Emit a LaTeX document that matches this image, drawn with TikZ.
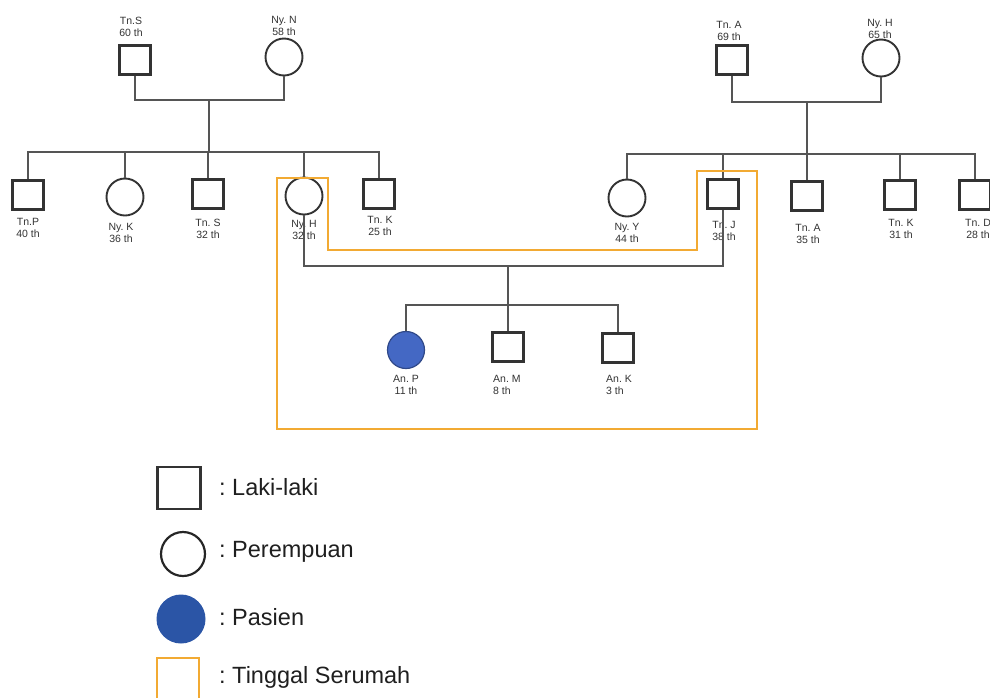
\documentclass[tikz,border=0pt]{standalone}
\usepackage{fontspec}
\setmainfont{Liberation Sans}
\frenchspacing
\definecolor{linegray}{HTML}{555555}
\definecolor{boxgray}{HTML}{333333}
\definecolor{house}{HTML}{F2AA33}
\definecolor{patient}{HTML}{4468C4}
\definecolor{patientkey}{HTML}{2B55A6}

\begin{document}
\begin{tikzpicture}[x=1pt,y=-1pt,
  male/.style={draw=boxgray, line width=2.1pt, minimum width=31pt, minimum height=29pt, inner sep=0pt},
  female/.style={circle, draw=boxgray, line width=1.9pt, minimum size=37pt, inner sep=0pt},
  tag/.style={align=center, font=\fontsize{10.5}{12.5}\selectfont, text=boxgray, inner sep=0pt},
  link/.style={draw=linegray, line width=1.6pt},
  home/.style={draw=house, line width=2.8pt},
  keytext/.style={anchor=west, font=\fontsize{23.5}{27}\selectfont, text=black!88, inner sep=0pt}]
\useasboundingbox (0,0) rectangle (990,697);

% ---------- labels ----------
\node[tag] at (131,27) {Tn.S\\60 th};
\node[tag] at (284,26) {Ny. N\\58 th};
\node[tag] at (729,31) {Tn. A\\69 th};
\node[tag] at (880,29) {Ny. H\\65 th};
\node[tag] at (28,228) {Tn.P\\40 th};
\node[tag] at (121,233) {Ny. K\\36 th};
\node[tag] at (208,229) {Tn. S\\32 th};
\node[tag] at (304,230) {Ny. H\\32 th};
\node[tag] at (380,226) {Tn. K\\25 th};
\node[tag] at (627,233) {Ny. Y\\44 th};
\node[tag] at (724,231) {Tn. J\\38 th};
\node[tag] at (808,234) {Tn. A\\35 th};
\node[tag] at (901,229) {Tn. K\\31 th};
\node[tag] at (978,229) {Tn. D\\28 th};
\node[tag] at (406,385) {An. P\\11 th};
\node[tag, align=left, anchor=west] at (493,385) {An. M\\8 th};
\node[tag, align=left, anchor=west] at (606,385) {An. K\\3 th};

% ---------- grandparents ----------
\node[male]   (tnS)  at (135,60) {};
\node[female] (nyN)  at (284,57) {};
\node[male]   (tnA)  at (732,60) {};
\node[female] (nyHg) at (881,58) {};

% ---------- second generation ----------
\node[male]   (tnP)  at (28,195)  {};
\node[female] (nyK)  at (125,197) {};
\node[male]   (tnS2) at (208,194) {};
\node[female] (nyH)  at (304,196) {};
\node[male]   (tnK)  at (379,194) {};

\node[female] (nyY)  at (627,198) {};
\node[male]   (tnJ)  at (723,194) {};
\node[male]   (tnA2) at (807,196) {};
\node[male]   (tnK2) at (900,195) {};
\node[male]   (tnD)  at (975,195) {};

% ---------- third generation ----------
\node[female, fill=patient, draw=patient!70!black, line width=1.2pt] (anP) at (406,350) {};
\node[male] (anM) at (508,347) {};
\node[male] (anK) at (618,348) {};

% ---------- junction points ----------
\coordinate (jL)  at (209,100);
\coordinate (sL)  at (209,152);
\coordinate (jR)  at (807,102);
\coordinate (sR)  at (807,154);
\coordinate (jM)  at (508,266);
\coordinate (sM)  at (508,305);

% ---------- left family ----------
\draw[link] (tnS.south) |- (jL) -| (nyN.south);
\draw[link] (jL) -- (sL);
\draw[link] (tnP.north) |- (sL) -| (tnK.north);
\draw[link] (nyK.north) -- (nyK.north |- sL);
\draw[link] (tnS2.north) -- (tnS2.north |- sL);
\draw[link] (nyH.north) -- (nyH.north |- sL);

% ---------- right family ----------
\draw[link] (tnA.south) |- (jR) -| (nyHg.south);
\draw[link] (jR) -- (sR);
\draw[link] (nyY.north) |- (sR) -| (tnD.north);
\draw[link] (tnJ.north) -- (tnJ.north |- sR);
\draw[link] (tnA2.north) -- (tnA2.north |- sR);
\draw[link] (tnK2.north) -- (tnK2.north |- sR);

% ---------- nuclear family ----------
\draw[link] (nyH.south) |- (jM) -| (tnJ.south);
\draw[link] (jM) -- (sM);
\draw[link] (anP.north) |- (sM) -| (anK.north);
\draw[link] (anM.north) -- (sM);

% ---------- household boundary ----------
\draw[home, line join=miter] (277,178) -- (328,178) -- (328,250) -- (697,250) -- (697,171)
  -- (757,171) -- (757,429) -- (277,429) -- cycle;

% ---------- key ----------
\node[draw=boxgray, line width=2.4pt, minimum width=43pt, minimum height=42pt] (keyM) at (179,488) {};
\node[circle, draw=black!85, line width=2.2pt, minimum size=44pt, inner sep=0pt] (keyF) at (183,554) {};
\node[circle, fill=patientkey, minimum size=49pt, inner sep=0pt] (keyP) at (181,619) {};
\node[draw=house, line width=2.8pt, minimum width=42pt, minimum height=44pt] (keyH) at (178,680) {};
\node[keytext] (tM) at (219,487) {: Laki-laki};
\node[keytext] (tF) at (219,552) {: Perempuan};
\node[keytext] (tP) at (219,617) {: Pasien};
\node[keytext] (tH) at (219,677) {: Tinggal Serumah};
\end{tikzpicture}
\end{document}
